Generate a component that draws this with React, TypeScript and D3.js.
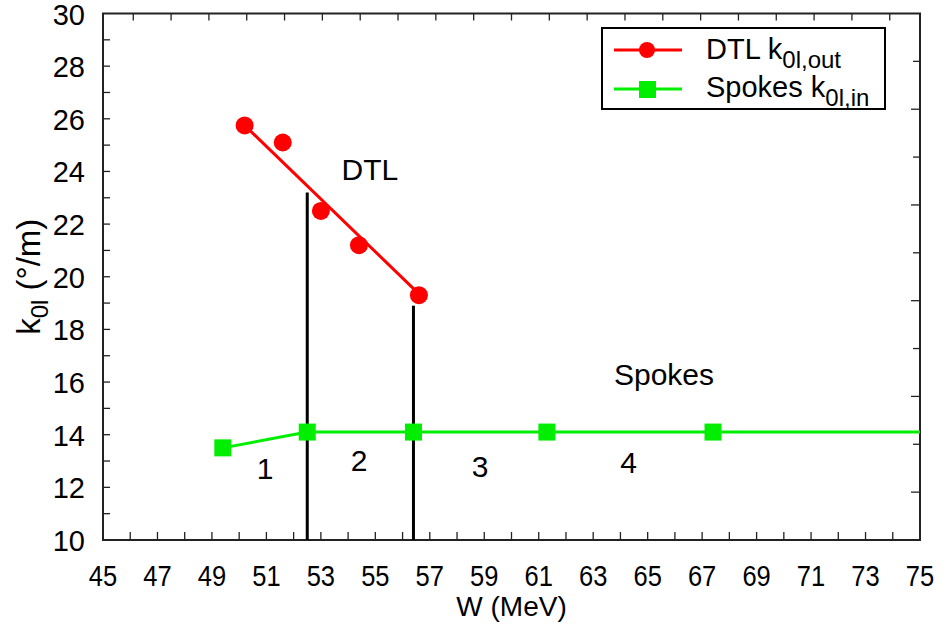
import { useRef, useEffect } from "react";
import * as d3 from "d3";

// DTL points (W in MeV, k0l in deg/m)
const dtlW = [50.2, 51.6, 53.0, 54.4, 56.6];
const dtlK = [25.75, 25.1, 22.5, 21.2, 19.3];
// straight fit drawn through the DTL points
const dtlFitW = [50.2, 56.6];
const dtlFitK = [25.75, 19.35];

// Spokes points
const spokeW = [49.4, 52.5, 56.4, 61.3, 67.4];
const spokeK = [13.5, 14.1, 14.1, 14.1, 14.1];
// line runs on to the end of the axis
const spokeLineW = [49.4, 52.5, 56.4, 61.3, 67.4, 75];
const spokeLineK = [13.5, 14.1, 14.1, 14.1, 14.1, 14.1];

// transition markers
const boundaryW = [52.5, 56.4];
const boundaryTop = [23.2, 18.9];

// region / section labels
const regionNames = ["1", "2", "3", "4"];
const regionW = [50.95, 54.4, 58.85, 64.3];
const regionK = [12.75, 13.05, 12.8, 12.95];
const sectionNames = ["DTL", "Spokes"];
const sectionW = [54.8, 65.6];
const sectionK = [24.1, 16.3];

const xTicks = d3.range(45, 76, 2);
const yTicks = d3.range(10, 31, 2);

export default function App() {
  const svgRef = useRef<SVGSVGElement>(null);

  useEffect(() => {
    document.body.style.margin = "0";
    const width = 942;
    const height = 626;
    const left = 103, right = 920, top = 13.5, bottom = 540;
    const font = "'Liberation Sans', Arial, sans-serif";

    const svg = d3.select(svgRef.current)
      .attr("width", width)
      .attr("height", height)
      .style("display", "block")
      .style("background", "#fff")
      .style("font-family", font);
    svg.selectAll("*").remove();

    const x = d3.scaleLinear().domain([45, 75]).range([left, right]);
    const y = d3.scaleLinear().domain([10, 30]).range([bottom, top]);
    // unlabelled mirror axes on top / right have their own spacing
    const xTop = d3.scaleLinear().domain([-0.8, 20.8]).range([left, right]);
    const yRight = d3.scaleLinear().domain([0, 11]).range([bottom, top]);

    const g = svg.append("g");

    // ticks (all point inward)
    const tick = "#222";
    g.selectAll(".xt").data(d3.range(46, 75, 1)).join("line")
      .attr("x1", d => x(d)).attr("x2", d => x(d))
      .attr("y1", bottom).attr("y2", bottom - 8)
      .attr("stroke", tick).attr("stroke-width", 1.3);
    g.selectAll(".yt").data(d3.range(11, 30, 1)).join("line")
      .attr("x1", left).attr("x2", left + 7)
      .attr("y1", d => y(d)).attr("y2", d => y(d))
      .attr("stroke", tick).attr("stroke-width", 1.3);
    g.selectAll(".tt").data(d3.range(0, 21, 1)).join("line")
      .attr("x1", d => xTop(d)).attr("x2", d => xTop(d))
      .attr("y1", top).attr("y2", top + 7)
      .attr("stroke", tick).attr("stroke-width", 1.3);
    g.selectAll(".rt").data(d3.range(1, 11, 1)).join("line")
      .attr("x1", right).attr("x2", d => right - (d % 2 ? 9 : 7))
      .attr("y1", d => yRight(d)).attr("y2", d => yRight(d))
      .attr("stroke", tick).attr("stroke-width", 1.3);

    // frame
    g.append("rect")
      .attr("x", left).attr("y", top)
      .attr("width", right - left).attr("height", bottom - top)
      .attr("fill", "none").attr("stroke", "#222").attr("stroke-width", 2);

    // tick labels
    g.selectAll(".xl").data(xTicks).join("text")
      .attr("x", d => x(d)).attr("y", 586)
      .attr("text-anchor", "middle")
      .attr("font-size", 30)
      .attr("transform", d => `translate(${x(d)},0) scale(0.85,1) translate(${-x(d)},0)`)
      .text(d => d);
    g.selectAll(".yl").data(yTicks).join("text")
      .attr("x", 85).attr("y", d => y(d) + 11)
      .attr("text-anchor", "end")
      .attr("font-size", 29)
      .text(d => d);

    // axis titles
    g.append("text")
      .attr("x", x(60)).attr("y", 616)
      .attr("text-anchor", "middle").attr("font-size", 28)
      .text("W (MeV)");
    const yt = g.append("text")
      .attr("transform", `translate(40, ${(top + bottom) / 2}) rotate(-90)`)
      .attr("text-anchor", "middle").attr("font-size", 33);
    yt.append("tspan").text("k");
    yt.append("tspan").attr("font-size", 24).attr("dy", 8).text("0l");
    yt.append("tspan").attr("dy", -8).text(" (°/m)");

    // boundary lines
    g.selectAll(".bl").data(boundaryW).join("line")
      .attr("x1", d => x(d)).attr("x2", d => x(d))
      .attr("y1", bottom).attr("y2", (d, i) => y(boundaryTop[i]))
      .attr("stroke", "#000").attr("stroke-width", 3);

    // spokes line + squares
    const lineGen = d3.line<[number, number]>().x(d => x(d[0])).y(d => y(d[1]));
    g.append("path")
      .attr("d", lineGen(spokeLineW.map((w, i) => [w, spokeLineK[i]]))!)
      .attr("fill", "none").attr("stroke", "#00ee00").attr("stroke-width", 3);
    g.selectAll(".sq").data(spokeW).join("rect")
      .attr("x", d => x(d) - 8.5).attr("y", (d, i) => y(spokeK[i]) - 8.5)
      .attr("width", 17).attr("height", 17)
      .attr("fill", "#00ee00");

    // DTL fit line + circles
    g.append("path")
      .attr("d", lineGen(dtlFitW.map((w, i) => [w, dtlFitK[i]]))!)
      .attr("fill", "none").attr("stroke", "#ff0000").attr("stroke-width", 3);
    g.selectAll(".ci").data(dtlW).join("circle")
      .attr("cx", d => x(d)).attr("cy", (d, i) => y(dtlK[i]))
      .attr("r", 9).attr("fill", "#ff0000");

    // annotations
    g.selectAll(".rn").data(regionNames).join("text")
      .attr("x", (d, i) => x(regionW[i])).attr("y", (d, i) => y(regionK[i]) + 11)
      .attr("text-anchor", "middle").attr("font-size", 30)
      .text(d => d);
    g.selectAll(".sn").data(sectionNames).join("text")
      .attr("x", (d, i) => x(sectionW[i])).attr("y", (d, i) => y(sectionK[i]) + 11)
      .attr("text-anchor", "middle").attr("font-size", 30)
      .text(d => d);

    // legend
    const lg = g.append("g");
    lg.append("rect")
      .attr("x", 602).attr("y", 28).attr("width", 283).attr("height", 81)
      .attr("fill", "#fff").attr("stroke", "#000").attr("stroke-width", 2);
    lg.append("line").attr("x1", 614).attr("x2", 682).attr("y1", 50).attr("y2", 50)
      .attr("stroke", "#ff0000").attr("stroke-width", 3);
    lg.append("circle").attr("cx", 647).attr("cy", 50).attr("r", 8).attr("fill", "#ff0000");
    lg.append("line").attr("x1", 614).attr("x2", 682).attr("y1", 89).attr("y2", 89)
      .attr("stroke", "#00ee00").attr("stroke-width", 3);
    lg.append("rect").attr("x", 639).attr("y", 81).attr("width", 17).attr("height", 17)
      .attr("fill", "#00ee00");
    const legendItems = [["DTL k", "0l,out", 59], ["Spokes k", "0l,in", 97]] as const;
    legendItems.forEach(([main, sub, yy]) => {
      const t = lg.append("text").attr("x", 706).attr("y", yy).attr("font-size", 29);
      t.append("tspan").text(main);
      t.append("tspan").attr("font-size", 24).attr("dy", 9).text(sub);
    });
  }, []);

  return (
    <div>
      <svg ref={svgRef}></svg>
    </div>
  );
}
